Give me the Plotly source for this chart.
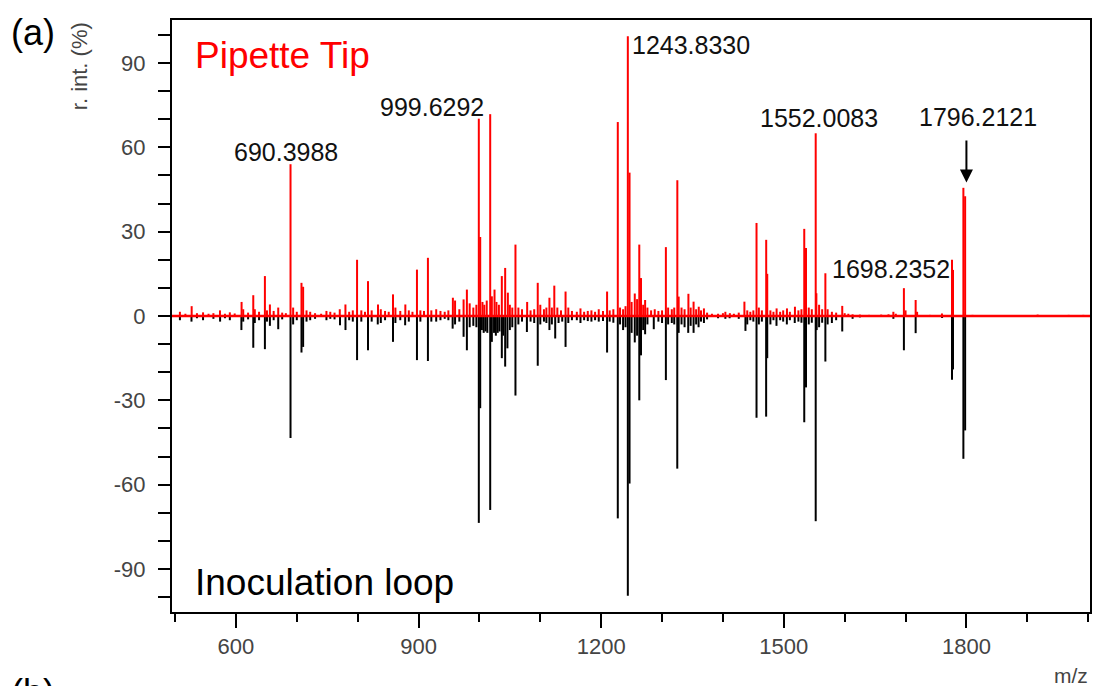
import plotly.graph_objects as go

# ---------------- data ----------------
red_mz = [508, 517, 527.3, 536, 546, 555, 563, 573.8, 582, 590, 598, 609.3, 612, 620, 628.5, 631, 638,
          647.6, 651, 655.8, 662, 669.5, 676, 682, 689.7, 694, 700, 707.7, 710.4, 716, 722, 730, 740,
          748.7, 755, 762, 770.6, 779.9, 786, 792, 799, 806, 812, 817, 823, 833.4, 838, 845, 851, 858,
          862, 870, 878.3, 884, 890, 897.4, 903, 909, 915.4, 921, 929, 936, 943, 949, 956.4, 960, 967,
          974, 979.4, 984, 990, 995, 999, 1001.3, 1005, 1008, 1012, 1017.7, 1020.4, 1024.8, 1028, 1032,
          1036.8, 1042.3, 1046.7, 1050, 1054, 1059.2, 1064, 1070, 1078.4, 1084, 1090, 1095.8, 1100, 1106,
          1110, 1115, 1119, 1123, 1128, 1134, 1141.5, 1146, 1152, 1160, 1166, 1172, 1178, 1184, 1190,
          1196, 1203, 1209.7, 1214, 1220, 1227.3, 1231, 1236, 1240, 1243.8, 1246.6, 1250, 1255.2, 1259,
          1262.6, 1265.4, 1269, 1272.2, 1276, 1282, 1288, 1294, 1300, 1306.3, 1310, 1316, 1320, 1325.1,
          1327.3, 1332, 1337, 1343.3, 1347, 1351.8, 1356, 1360.3, 1364, 1368.8, 1374, 1382, 1392, 1400,
          1404, 1411.4, 1418, 1426, 1435.3, 1440, 1445, 1450, 1455.2, 1459, 1464, 1471.1, 1472.8, 1478,
          1483, 1488.2, 1494, 1499, 1505.2, 1510, 1518.3, 1524, 1529, 1533.6, 1536.5, 1541, 1546, 1552.4,
          1553.5, 1558, 1563, 1568.3, 1572, 1579, 1586, 1596, 1600, 1606, 1613, 1625, 1640, 1660, 1672,
          1680, 1684, 1697.3, 1700, 1716.6, 1719, 1740, 1759.8, 1776.3, 1778, 1795, 1797.9, 1810, 1850,
          1917, 1968, 1992]
red_int = [1.5, 0.8, 3.5, 1.0, 1.3, 0.8, 1.0, 2.0, 0.8, 1.3, 0.9, 5.0, 2.4, 1.2, 7.4, 2.4, 1.5,
           14.2, 2.0, 4.1, 1.8, 3.0, 1.2, 1.0, 54.0, 3.0, 1.5, 11.8, 10.4, 2.0, 1.5, 1.0, 0.8,
           1.8, 1.5, 1.2, 2.4, 4.1, 1.5, 2.0, 20.0, 2.0, 1.5, 12.4, 2.0, 4.1, 2.4, 1.8, 1.5, 7.7,
           3.0, 1.8, 4.1, 2.0, 1.5, 16.5, 2.0, 1.8, 20.7, 2.0, 2.4, 1.8, 1.5, 2.0, 6.5, 5.5, 2.4,
           5.9, 9.4, 4.5, 3.0, 4.0, 70.2, 28.1, 5.0, 4.0, 5.5, 71.8, 7.0, 9.4, 5.0, 4.0,
           14.2, 17.1, 8.3, 4.0, 3.0, 25.4, 3.0, 2.4, 5.0, 2.0, 2.4, 11.8, 4.0, 2.4,
           3.0, 6.5, 3.0, 10.8, 3.0, 2.0, 8.7, 3.0, 1.8, 1.5, 2.7, 1.5, 1.8, 2.0, 1.5,
           2.4, 1.8, 8.7, 2.0, 2.4, 69.0, 3.0, 2.4, 3.5, 99.5, 51.0, 5.0, 8.0, 6.0,
           25.4, 13.5, 4.0, 5.7, 3.0, 2.0, 2.4, 1.8, 2.0, 24.5, 3.0, 2.4, 3.0, 48.3,
           6.9, 3.0, 2.4, 7.9, 3.0, 5.1, 2.4, 3.3, 2.0, 2.7, 1.2, 0.8, 0.8, 1.0,
           1.5, 1.0, 0.8, 1.2, 5.1, 2.0, 1.5, 2.0, 33.1, 3.0, 2.0, 27.1, 15.0, 2.0,
           1.5, 2.7, 1.5, 2.0, 2.7, 1.5, 3.3, 2.0, 2.4, 31.0, 24.2, 3.0, 2.4, 65.0,
           8.1, 4.0, 2.4, 15.2, 2.4, 1.5, 1.2, 3.6, 1.0, 0.8, 0.6, 0.5, 0.4, 0.5, 0.6,
           1.5, 0.8, 9.9, 2.0, 5.7, 1.5, 0.4, 0.9, 20.0, 16.4, 45.6, 42.6, 0.4, 0.3,
           0.5, 0.4, 0.4]

black_mz = [508, 527, 536, 546, 563, 574, 582, 590, 609, 612, 620, 628.5, 631, 638, 647.6, 651, 655.8,
            662, 669.5, 676, 689.7, 694, 700, 707.7, 710.4, 716, 722, 730, 748.7, 755, 762, 771, 780,
            786, 792, 799, 806, 817, 823, 833, 838, 845, 858, 862, 870, 878, 884, 897.4, 903, 915.4,
            921, 929, 936, 943, 949, 956, 960, 967, 974, 979.4, 984, 990, 995, 999, 1001.3, 1004, 1007,
            1010, 1013, 1017.7, 1020.4, 1024, 1027, 1030, 1033, 1036.8, 1039, 1042.3, 1046, 1050, 1054,
            1059.2, 1064, 1070, 1078, 1084, 1090, 1095.8, 1100, 1106, 1110, 1115, 1119, 1124.5, 1130,
            1136, 1141.5, 1146, 1152, 1160, 1166, 1172, 1178, 1184, 1190, 1196, 1203, 1209.7, 1214,
            1220, 1227.3, 1231, 1236, 1240, 1243.8, 1246.6, 1250, 1255.2, 1259, 1262.6, 1265.4, 1269,
            1272.2, 1276, 1286.4, 1294, 1300, 1306.3, 1310, 1316, 1320, 1325, 1327.3, 1332, 1337, 1343,
            1347, 1351.8, 1356, 1360, 1364, 1368.8, 1374, 1392, 1404, 1411, 1426, 1437, 1440, 1445,
            1450, 1455.2, 1459, 1464, 1471, 1472.8, 1478, 1483, 1488, 1494, 1499, 1505, 1510, 1518,
            1524, 1529, 1533.6, 1536.5, 1541, 1546, 1552.4, 1554, 1558, 1563, 1568.3, 1572, 1579, 1586,
            1596, 1613, 1625, 1680, 1697.3, 1716.6, 1760, 1776.3, 1778, 1795, 1797.9]
black_int = [-1.5, -2.0, -0.8, -1.5, -1.0, -2.0, -0.8, -1.5, -5.0, -2.0, -1.2, -11.3, -2.5, -1.5, -11.8, -2.0, -3.5,
             -1.5, -4.7, -1.2, -43.4, -3.0, -1.5, -13.0, -11.0, -2.0, -1.5, -1.0, -1.5, -1.0, -1.2, -3.3, -5.0,
             -1.5, -2.0, -15.7, -2.0, -12.2, -2.0, -3.0, -2.5, -1.5, -9.2, -2.5, -1.5, -3.3, -2.0, -15.7, -2.0, -16.0,
             -2.0, -2.0, -1.5, -1.0, -1.5, -4.5, -3.0, -2.0, -7.4, -12.2, -4.0, -3.5, -4.0, -73.6, -32.8, -5.0, -6.0,
             -5.5, -6.0, -69.0, -9.2, -6.0, -7.0, -6.0, -5.5, -15.0, -7.0, -18.0, -11.5, -5.0, -4.0,
             -28.3, -3.0, -2.0, -5.7, -2.0, -2.5, -17.7, -3.0, -2.0, -2.5, -5.0, -3.0, -8.0, -2.5,
             -2.0, -11.0, -2.5, -1.5, -1.5, -2.5, -1.5, -1.8, -2.0, -1.5, -2.0, -1.8, -13.0, -2.0,
             -2.4, -72.0, -3.0, -5.0, -4.0, -99.5, -59.6, -6.0, -9.4, -7.0, -30.0, -14.0, -5.0,
             -6.5, -3.0, -4.7, -2.0, -2.5, -22.8, -3.0, -2.5, -3.0, -54.3, -6.0, -3.0, -4.0, -6.0,
             -3.5, -6.0, -3.0, -4.0, -2.0, -2.5, -1.2, -0.8, -1.0, -0.8, -1.0, -5.3, -3.0, -1.5,
             -2.0, -36.2, -3.0, -2.0, -35.8, -15.0, -3.0, -1.5, -3.5, -1.5, -2.0, -3.0, -1.5, -2.5,
             -2.0, -2.4, -37.8, -25.4, -3.0, -2.4, -73.0, -5.0, -4.0, -2.4, -16.2, -3.0, -2.5, -1.5,
             -5.5, -1.0, -0.5, -1.0, -12.2, -6.1, -0.7, -22.7, -19.0, -50.8, -40.7]

label_text = ["690.3988", "999.6292", "1243.8330", "1552.0083", "1796.2121", "1698.2352"]
label_mz = [682, 921.5, 1247.5, 1557.8, 1818.6, 1676]
label_y = [58.5, 74.5, 96.4, 70.5, 70.9, 16.8]
label_anchor = ["center", "center", "left", "center", "center", "center"]

x_ticks = [600, 900, 1200, 1500, 1800]
y_ticks = [-90, -60, -30, 0, 30, 60, 90]
x_range = [495, 2003]
y_range = [-105.3, 105.3]


def sticks(mz, inten):
    xs, ys = [], []
    for m, v in zip(mz, inten):
        xs += [m, m, None]
        ys += [0, v, None]
    return xs, ys


FONT = "Arial, Liberation Sans, sans-serif"
W, H = 1096, 686
L, R, T, B = 172, 4, 20, 74
PW, PH = W - L - R, H - T - B


def px(xp, yp):
    return (xp - L) / PW, (H - B - yp) / PH


fig = go.Figure()
bx, by = sticks(black_mz, black_int)
fig.add_trace(go.Scatter(x=bx, y=by, mode="lines", line=dict(color="black", width=2),
                         hoverinfo="skip", showlegend=False))
rx, ry = sticks(red_mz, red_int)
fig.add_trace(go.Scatter(x=rx, y=ry, mode="lines", line=dict(color="#ff0000", width=2),
                         hoverinfo="skip", showlegend=False))
fig.add_trace(go.Scatter(x=x_range, y=[0, 0], mode="lines", line=dict(color="#ff0000", width=2.5),
                         hoverinfo="skip", showlegend=False))

annotations = []
for t, xm, ym, a in zip(label_text, label_mz, label_y, label_anchor):
    annotations.append(dict(x=xm, y=ym, xref="x", yref="y", text=t, showarrow=False,
                            xanchor=a, yanchor="middle", font=dict(family=FONT, size=25, color="#111")))

# arrow pointing to 1796 peak
annotations.append(dict(x=1800, y=47.5, ax=1800, ay=63, xref="x", yref="y", axref="x", ayref="y",
                        text="", showarrow=True, arrowhead=2, arrowsize=1.3, arrowwidth=2,
                        arrowcolor="black"))

annotations.append(dict(x=529.5, y=92.5, xref="x", yref="y", text="Pipette Tip", showarrow=False,
                        xanchor="left", yanchor="middle", font=dict(family=FONT, size=37, color="#ff0000")))
annotations.append(dict(x=529.5, y=-94.8, xref="x", yref="y", text="Inoculation loop", showarrow=False,
                        xanchor="left", yanchor="middle", font=dict(family=FONT, size=37, color="black")))

xa, ya = px(33, 33)
annotations.append(dict(x=xa, y=ya, xref="paper", yref="paper", text="(a)", showarrow=False,
                        xanchor="center", yanchor="middle", font=dict(family=FONT, size=36, color="black")))
xb, yb = px(33, 692)
annotations.append(dict(x=xb, y=yb, xref="paper", yref="paper", text="(b)", showarrow=False,
                        xanchor="center", yanchor="middle", font=dict(family=FONT, size=36, color="black")))
xt, yt = px(79, 66)
annotations.append(dict(x=xt, y=yt, xref="paper", yref="paper", text="r. int. (%)", showarrow=False,
                        textangle=-90, xanchor="center", yanchor="middle",
                        font=dict(family=FONT, size=22, color="#444")))
xm_, ym_ = px(1073, 675)
annotations.append(dict(x=xm_, y=ym_, xref="paper", yref="paper", text="m/z", showarrow=False,
                        xanchor="center", yanchor="middle", font=dict(family=FONT, size=21, color="#444")))

fig.update_layout(
    width=W, height=H,
    margin=dict(l=L, r=R, t=T, b=B, pad=0),
    paper_bgcolor="white", plot_bgcolor="white",
    annotations=annotations,
    showlegend=False,
)
fig.update_xaxes(range=x_range, tickmode="array", tickvals=x_ticks, ticktext=[str(v) for v in x_ticks],
                 ticks="outside", ticklen=14, tickwidth=2, tickcolor="black",
                 minor=dict(tickmode="array", tickvals=list(range(500, 2001, 100)), ticks="outside",
                            ticklen=8, tickwidth=2, tickcolor="black", showgrid=False),
                 showline=True, linewidth=2, linecolor="black", mirror=True,
                 showgrid=False, zeroline=False,
                 tickfont=dict(family=FONT, size=22, color="#444"))
fig.update_yaxes(range=y_range, tickmode="array", tickvals=y_ticks, ticktext=[str(v) for v in y_ticks],
                 ticks="outside", ticklen=12, tickwidth=2, tickcolor="black",
                 minor=dict(tickmode="array", tickvals=list(range(-100, 101, 10)), ticks="outside",
                            ticklen=12, tickwidth=2, tickcolor="black", showgrid=False),
                 showline=True, linewidth=2, linecolor="black", mirror=True,
                 showgrid=False, zeroline=False, ticklabelstandoff=8,
                 tickfont=dict(family=FONT, size=22, color="#444"))

fig.write_html("out.html")
